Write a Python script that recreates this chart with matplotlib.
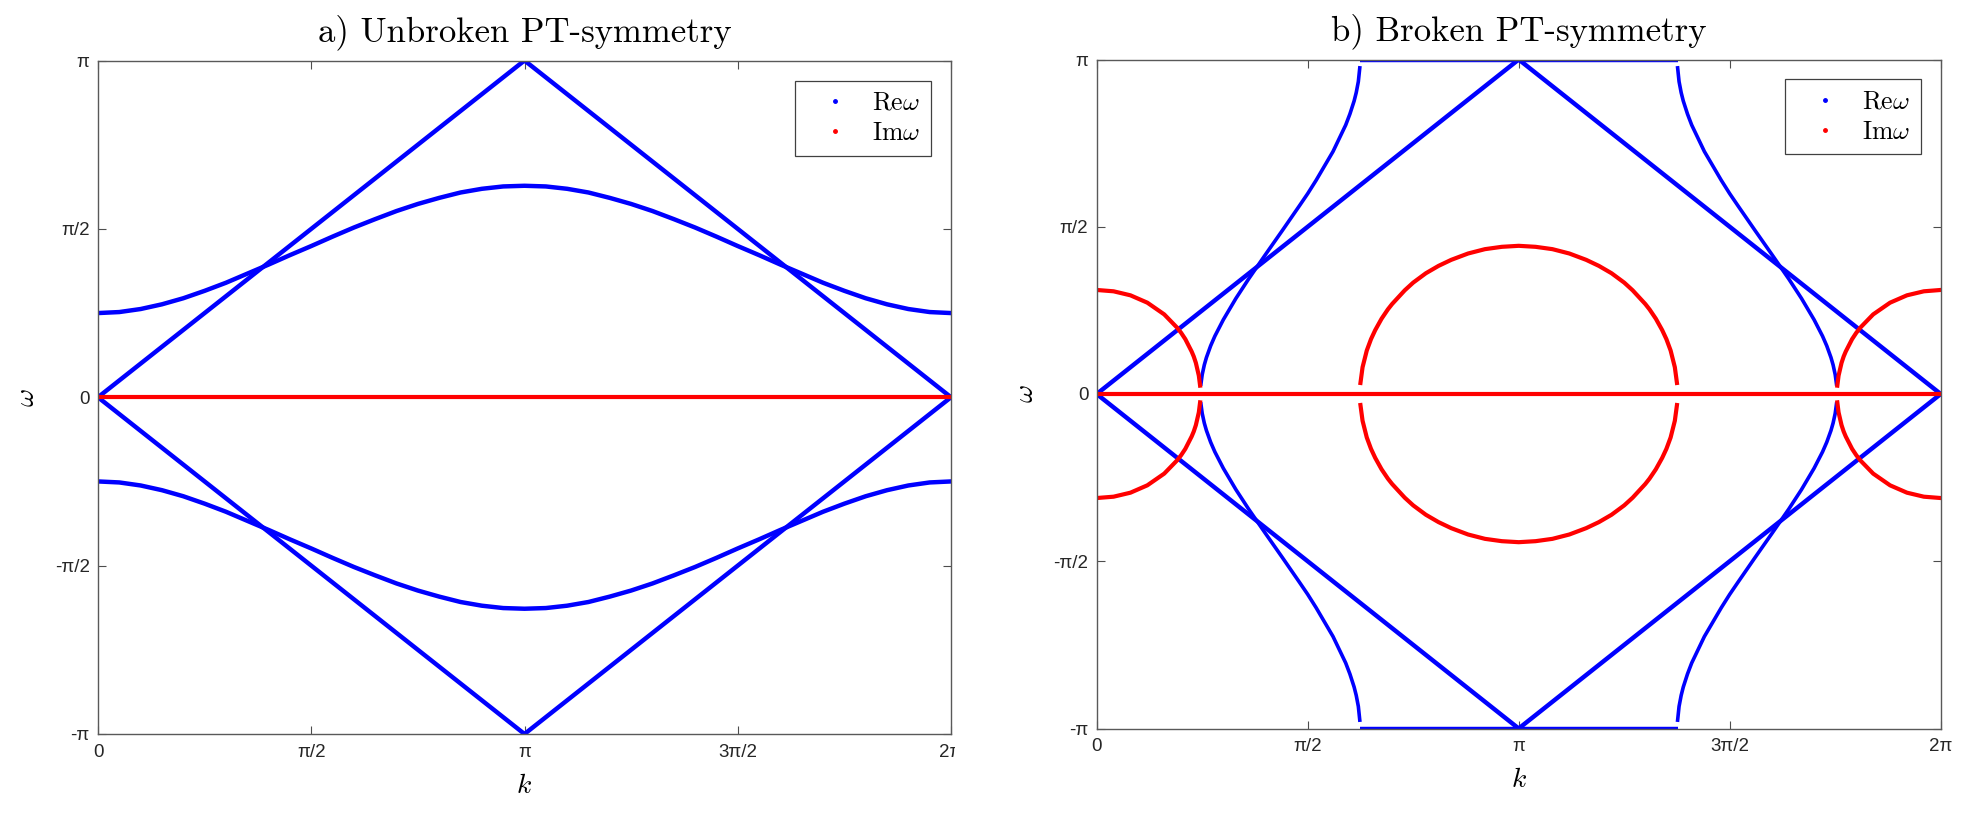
import numpy as np
import matplotlib
matplotlib.use('Agg')
import matplotlib.pyplot as plt
from matplotlib.lines import Line2D
from matplotlib.transforms import Bbox, TransformedBbox

plt.rcParams['mathtext.fontset'] = 'cm'
plt.rcParams['font.family'] = ['Liberation Sans', 'DejaVu Sans']

# every value is in units of pi (k/pi, omega/pi)

# a) unbroken PT-symmetry, band for 0 <= k <= pi (the other half is its mirror)
ka = [0.0, 0.05, 0.1, 0.15, 0.2, 0.25, 0.3, 0.35, 0.4, 0.45, 0.5,
      0.55, 0.6, 0.65, 0.7, 0.75, 0.8, 0.85, 0.9, 0.95, 1.0]
wa_band = [0.250, 0.253, 0.262, 0.276, 0.294, 0.316, 0.340, 0.367, 0.394, 0.422, 0.449,
           0.477, 0.504, 0.529, 0.553, 0.574, 0.592, 0.608, 0.619, 0.626, 0.628]
k_cone = [0.0, 1.0, 2.0]
w_cone = [0.0, 1.0, 0.0]
k_zero = [0.0, 2.0]
w_zero = [0.0, 0.0]

# b) broken PT-symmetry
kb_s = [0.247, 0.25, 0.255, 0.26, 0.27, 0.28, 0.30, 0.33, 0.36, 0.40, 0.44, 0.48,
        0.50, 0.52, 0.56, 0.59, 0.60, 0.61, 0.615, 0.62, 0.6234]
wb_s = [0.030, 0.058, 0.087, 0.109, 0.144, 0.173, 0.222, 0.286, 0.344, 0.417, 0.489, 0.562,
        0.599, 0.639, 0.725, 0.804, 0.837, 0.876, 0.901, 0.934, 0.975]
k_flat = [0.6234, 1.3766]
w_flat = [1.0, 1.0]
kb_arc = [0.0, 0.04, 0.08, 0.12, 0.16, 0.19, 0.20, 0.21, 0.225, 0.23, 0.235, 0.242, 0.245]
wb_arc = [0.311, 0.307, 0.295, 0.273, 0.238, 0.199, 0.183, 0.164, 0.127, 0.112, 0.093, 0.055, 0.025]
kb_mid = [0.625, 0.63, 0.64, 0.65, 0.66, 0.675, 0.69, 0.70, 0.73, 0.75, 0.78,
          0.81, 0.84, 0.88, 0.92, 0.96, 1.0]
wb_mid = [0.033, 0.080, 0.130, 0.164, 0.191, 0.225, 0.253, 0.269, 0.310, 0.333, 0.361,
          0.383, 0.401, 0.420, 0.433, 0.440, 0.443]

k_ticks = [0, 0.5, 1, 1.5, 2]
k_labels = ['0', 'π/2', 'π', '3π/2', '2π']
w_ticks = [-1, -0.5, 0, 0.5, 1]
w_labels = ['-π', '-π/2', '0', 'π/2', 'π']

BLUE = (0, 0, 1)
RED = (1, 0, 0)
W, H = 1984, 817


def mirror(k):
    return [2 - x for x in k]


def neg(w):
    return [-x for x in w]


def full(k, w):
    # join a half curve (up to k = pi) with its mirror image
    return k + mirror(k[-2::-1]), w + w[-2::-1]


def style(ax, title):
    ax.set_xlim(0, 2)
    ax.set_ylim(-1, 1)
    ax.set_xticks(k_ticks)
    ax.set_xticklabels(k_labels)
    ax.set_yticks(w_ticks)
    ax.set_yticklabels(w_labels)
    ax.tick_params(direction='in', length=6, width=0.8, color='0.3',
                   top=True, right=True, labelsize=13.5, labelcolor='0.15')
    ax.tick_params(axis='x', pad=7)
    ax.tick_params(axis='y', pad=6)
    for s in ax.spines.values():
        s.set_color('0.35')
        s.set_linewidth(1.0)
    ax.set_title(title, fontfamily='cmr10', fontsize=25, pad=14)
    ax.set_xlabel(r'$k$', fontsize=20)
    ax.set_ylabel(r'$\omega$', fontsize=20)
    ax.xaxis.set_label_coords(0.5, -0.058)
    ax.yaxis.set_label_coords(-0.068, 0.5)
    handles = [Line2D([], [], ls='none', marker='.', ms=5, color=BLUE),
               Line2D([], [], ls='none', marker='.', ms=5, color=RED)]
    leg = ax.legend(handles, [r'$\mathrm{Re}\omega$', r'$\mathrm{Im}\omega$'],
                    loc='upper right', bbox_to_anchor=(1 - 20 / 844, 1 - 20 / 669),
                    borderaxespad=0, fontsize=18.5, fancybox=False, framealpha=1,
                    edgecolor='0.25', handlelength=2.3, handletextpad=0.3,
                    borderpad=0.4, labelspacing=0.25)
    leg.get_frame().set_linewidth(0.9)


fig = plt.figure(figsize=(W / 100, H / 100), dpi=100)
axa = fig.add_axes([98 / W, 1 - 734 / H, 853 / W, 673.5 / H])
axb = fig.add_axes([1096.7 / W, 1 - 728.5 / H, 844 / W, 669 / H])

# panel a
lw = 3.2
ka_full, wa_full = full(ka, wa_band)
for w in (w_cone, neg(w_cone)):
    axa.plot(k_cone, w, color=BLUE, lw=lw, solid_capstyle='butt')
for w in (wa_full, neg(wa_full)):
    axa.plot(ka_full, w, color=BLUE, lw=lw)
axa.plot(k_zero, w_zero, color=RED, lw=3.0)
style(axa, 'a) Unbroken PT-symmetry')

# panel b
kb_mid_full, wb_mid_full = full(kb_mid, wb_mid)
for w in (w_cone, neg(w_cone)):
    axb.plot(k_cone, w, color=BLUE, lw=lw, solid_capstyle='butt')
for w in (w_flat, neg(w_flat)):
    axb.plot(k_flat, w, color=BLUE, lw=lw, solid_capstyle='butt')
for k in (kb_s, mirror(kb_s)):
    for w in (wb_s, neg(wb_s)):
        axb.plot(k, w, color=BLUE, lw=2.6)
axb.plot(k_zero, w_zero, color=RED, lw=3.0)
for k in (kb_arc, mirror(kb_arc)):
    for w in (wb_arc, neg(wb_arc)):
        axb.plot(k, w, color=RED, lw=3.0)
for w in (wb_mid_full, neg(wb_mid_full)):
    axb.plot(kb_mid_full, w, color=RED, lw=3.0)
style(axb, 'b) Broken PT-symmetry')

# the left picture is cut just right of its last tick label
clip = TransformedBbox(Bbox.from_extents(0, 0, 955 / W, 1), fig.transFigure)
last = axa.xaxis.get_major_ticks()[-1].label1
last.set_clip_box(clip)
last.set_clip_on(True)

fig.savefig('out.png', dpi=100)
